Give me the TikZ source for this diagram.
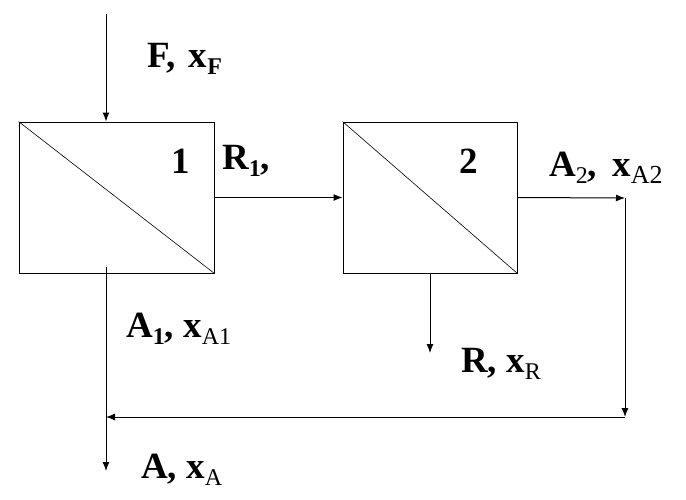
\documentclass[tikz,border=0pt]{standalone}
\usepackage{fontspec}
\setmainfont{Liberation Serif}
\usetikzlibrary{arrows.meta}
\newcommand\lsub[1]{\raisebox{-0.2em}{\fontsize{24}{24}\selectfont\mdseries #1}}
\newcommand\bsub[1]{\raisebox{-0.2em}{\fontsize{24}{24}\selectfont\bfseries #1}}
\newcommand\wsub[1]{\raisebox{-0.2em}{\fontsize{26}{26}\selectfont\mdseries #1}}
\begin{document}
\begin{tikzpicture}[x=1pt,y=-1pt,
  unit/.style={draw=black, line width=1pt, minimum height=151pt, inner sep=0pt},
  flow/.style={draw=black, line width=1pt, -{Latex[length=9pt,width=7pt]}},
  lbl/.style={anchor=base west, inner sep=0pt, font=\fontsize{37}{37}\selectfont\bfseries}]
\useasboundingbox (0,0) rectangle (686,499);
\fill[white] (0,0) rectangle (686,499);
% units
\node[unit, minimum width=195pt] (b1) at (116.5,197.5) {};
\node[unit, minimum width=174pt] (b2) at (430,197.5) {};
\draw[line width=0.6pt] (b1.north west) -- (b1.south east);
\draw[line width=0.6pt] (b2.north west) -- (b2.south east);
% points
\coordinate (fin) at (106,14);
\coordinate (c1) at (625,198);
\coordinate (c2) at (625,417);
\coordinate (c3) at (106,417);
\coordinate (a1top) at (106,267);
\coordinate (aout) at (106,471);
\coordinate (rout) at (430,353);
% connectors
\draw[flow] (fin) -- (fin |- b1.north);
\draw[flow] (b1.east) -- (b2.west);
\draw[flow] (b2.east) -- (c1);
\draw[flow] (c1) -- (c2);
\draw[flow] (c2) -- (c3);
\draw[flow] (a1top) -- (aout);
\draw[flow] (b2.south) -- (rout);
% labels
\node[lbl] (lf) at (147,67) {F,\hspace{4pt} x\bsub{F}};
\node[lbl] (l1) at (171,173) {1};
\node[lbl] (lr1) at (222,169) {R\bsub{1},};
\node[lbl] (l2) at (459,173) {2};
\node[lbl] (la2) at (549,176) {A\lsub{2},\hspace{6pt} x\wsub{A2}};
\node[lbl] (lr) at (461,372) {R, x\lsub{R}};
\node[lbl] (la1) at (126,337) {A\bsub{1}, x\lsub{A1}};
\node[lbl] (la) at (141,478) {A, x\lsub{A}};
\end{tikzpicture}
\end{document}
